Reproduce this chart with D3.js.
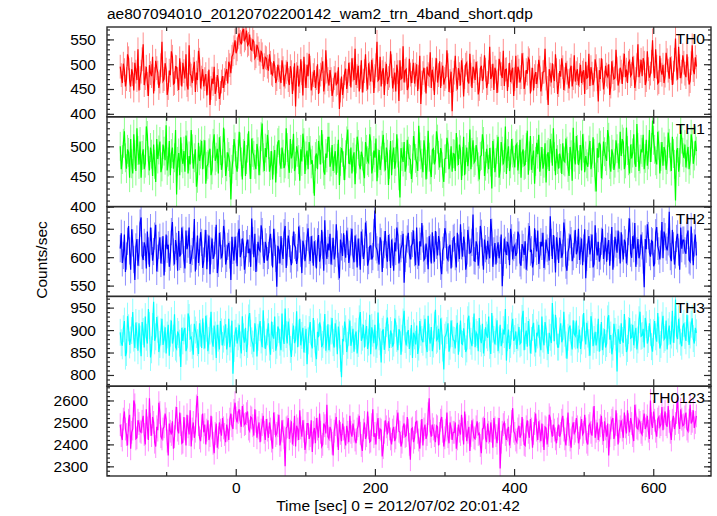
<!DOCTYPE html>
<html><head><meta charset="utf-8">
<script src="https://cdn.jsdelivr.net/npm/d3@7"></script>
<style>
body{margin:0;background:#fff}
text{font-family:"Liberation Sans",Arial,Helvetica,sans-serif;fill:#000}
</style>
</head><body>
<svg id="chart" width="717" height="516"></svg>
<script>
const titleText = "ae807094010_20120702200142_wam2_trn_4band_short.qdp";
const xLabelText = "Time [sec] 0 = 2012/07/02 20:01:42";
const yLabelText = "Counts/sec";
const bandNames = ["TH0", "TH1", "TH2", "TH3", "TH0123"];
const bandColors = ["#ff0000", "#00ff00", "#0000ff", "#00ffff", "#ff00ff"];
const tStart = -166, tStep = 1.5;

const th0 = [495,478,462,501,488,455,470,520,512,468,455,490,480,447,503,485,468,530,447,472,
485,510,540,458,472,495,460,436,498,482,476,515,441,470,507,492,483,452,465,498,
545,466,470,502,489,438,452,487,478,526,515,460,462,495,494,470,448,512,481,455,
503,486,471,520,458,449,538,480,477,462,490,505,444,483,468,527,509,451,473,490,
455,470,480,437,462,489,418,452,471,460,495,440,450,478,466,430,442,465,476,452,
468,482,490,461,505,498,482,515,520,534,548,522,530,555,562,545,540,566,571,548,
552,568,538,541,560,530,528,550,545,512,516,539,532,521,505,527,520,490,498,514,
512,495,487,520,503,481,478,506,496,462,470,499,488,474,462,508,492,455,475,484,
505,468,458,496,484,440,471,502,415,480,497,455,466,510,482,437,515,476,452,499,
476,521,493,447,461,478,488,452,472,500,440,466,479,490,506,445,463,528,485,470,
457,488,470,436,448,472,483,459,462,494,410,447,475,438,455,482,491,450,466,503,
480,453,512,489,468,531,458,476,497,445,474,508,443,467,486,520,470,449,502,481,
465,509,488,442,476,498,545,467,470,515,455,484,492,438,481,501,460,472,477,526,
496,451,468,483,445,499,484,426,508,470,472,536,463,487,490,448,455,511,479,462,
486,503,461,479,500,446,474,517,420,463,482,493,468,441,495,480,477,524,452,489,
471,438,489,512,463,478,506,452,480,497,459,470,475,528,498,444,466,485,405,468,
483,517,470,449,492,480,457,508,488,435,474,499,503,466,461,521,479,452,495,486,
468,505,482,439,450,491,497,466,473,518,489,452,462,484,535,470,476,501,448,493,
485,442,467,511,501,480,472,527,456,489,490,446,478,503,464,485,493,436,470,517,
452,495,487,463,474,522,499,450,463,488,481,512,508,441,469,493,447,476,484,460,
476,509,493,445,460,484,485,531,471,452,418,490,479,463,502,476,466,520,488,440,
458,486,475,512,494,448,470,503,483,466,451,489,497,455,472,518,465,482,490,457,
478,499,462,483,488,440,505,472,474,521,456,494,481,458,469,510,496,470,425,488,
470,512,487,449,463,497,479,475,500,438,455,506,484,470,472,529,491,457,467,493,
485,460,498,521,474,489,462,503,507,476,480,515,493,452,470,498,540,474,486,509,
476,512,503,458,468,526,490,473,481,505,548,490,472,530,495,461,464,517,488,479,
499,462,477,523,508,487,471,514,492,458,483,509,552,491,469,535,496,472,485,518,
503,481,474,520,491,459,466,502,538,488,480,514,495];

const th1 = [500,462,478,505,525,481,463,495,490,448,512,471,455,520,486,459,530,493,470,508,
448,485,495,462,472,533,518,476,460,498,487,451,503,470,441,512,479,494,508,457,
466,503,492,477,535,460,474,509,452,488,498,463,481,527,420,475,489,452,515,481,
471,492,458,518,502,455,484,470,527,496,463,481,495,433,447,506,476,487,509,462,
487,510,438,467,470,489,496,452,461,505,520,476,482,496,455,515,493,461,472,531,
505,451,466,490,483,473,412,462,478,512,499,468,458,487,524,499,474,445,488,509,
451,478,497,525,470,446,513,490,485,470,462,504,491,452,476,516,538,481,459,497,
482,519,503,458,468,492,445,477,494,440,479,506,510,473,463,498,487,464,471,530,
498,470,456,512,480,487,521,459,467,500,490,478,443,495,475,521,506,454,484,493,
462,507,493,471,477,446,418,483,488,462,509,494,470,527,496,459,453,488,481,515,
515,466,474,502,459,480,492,453,480,511,436,475,497,490,468,444,486,509,528,472,
471,498,455,482,490,437,479,516,503,469,462,491,484,458,447,507,495,476,473,520,
508,455,466,493,481,513,442,472,494,461,476,502,519,482,460,498,487,436,470,509,
452,486,498,463,475,520,489,451,415,497,483,474,507,458,468,511,492,480,478,446,
464,517,501,480,473,459,534,499,486,472,457,510,493,445,470,526,482,461,449,494,
496,470,477,525,512,485,465,497,489,455,441,479,480,514,503,462,471,500,458,488,
487,459,522,491,469,503,494,444,475,516,452,478,498,467,483,528,462,490,510,473,
476,502,491,466,445,483,485,520,508,451,467,496,479,462,497,474,430,509,488,457,
473,495,516,448,460,507,492,470,481,533,454,488,500,459,471,512,489,477,465,501,
504,460,478,511,448,489,495,468,470,498,526,453,484,517,461,480,493,438,475,506,
487,519,458,475,499,463,472,505,440,486,490,459,512,497,468,530,483,452,496,478,
463,488,480,454,505,476,474,513,492,465,451,499,486,443,531,482,470,517,495,469,
478,502,460,520,497,457,484,471,466,494,509,462,473,515,488,449,425,497,481,506,
502,447,469,508,491,483,476,527,515,470,458,495,487,461,472,510,496,481,463,524,
484,512,507,462,471,531,493,476,455,503,480,489,520,472,466,537,498,459,479,495,
490,519,462,480,511,468,486,527,474,498,543,510,495,476,470,524,502,455,483,507,
468,499,492,461,478,523,505,482,459,516,488,470,410,492,497,458,473,527,512,490,
481,503,465,487,499,462,476,520,507,471,484,509,492];

const th2 = [615,642,590,603,640,574,602,628,655,611,578,649,625,596,560,618,632,585,608,660,
670,603,595,626,618,580,645,611,583,652,628,594,610,637,657,575,598,621,635,589,
612,637,568,598,640,614,622,583,600,645,662,609,587,630,619,576,646,601,605,652,
630,596,580,647,614,623,652,588,597,610,621,667,575,602,638,590,609,644,626,581,
593,624,648,579,616,638,570,611,633,597,603,629,657,572,589,643,620,598,606,655,
642,587,598,619,625,604,560,636,612,594,636,613,584,641,650,600,608,633,622,578,
595,624,631,607,615,583,668,629,600,641,574,599,627,614,611,656,645,603,590,627,
618,594,603,631,641,609,582,650,626,598,548,620,613,589,637,610,597,643,655,581,
609,638,624,597,586,613,645,621,617,588,599,654,632,607,572,629,620,593,606,635,
651,612,593,637,614,585,628,606,580,627,639,592,604,648,621,576,665,611,597,624,
612,641,587,610,634,596,607,658,623,584,563,631,618,602,642,615,599,647,628,590,
605,627,650,603,591,638,616,582,633,609,578,645,625,597,609,661,640,585,594,619,
620,596,601,643,682,618,613,600,587,635,627,574,605,622,646,604,592,639,617,581,
631,609,576,626,610,652,638,589,600,615,622,641,555,598,614,632,643,606,596,620,
624,647,608,586,652,603,585,628,619,660,632,595,598,624,611,579,637,616,589,644,
613,592,646,621,603,637,627,584,570,612,618,651,640,599,595,618,622,580,606,633,
635,601,582,643,616,597,658,620,601,636,625,578,589,648,630,607,609,626,675,594,
593,628,620,585,604,655,642,609,578,631,615,596,629,612,598,667,644,583,611,625,
587,614,626,598,612,640,549,591,633,612,604,627,619,586,650,634,596,617,621,602,
608,645,639,590,585,623,617,604,628,578,600,636,655,609,613,582,592,651,624,610,
647,588,603,627,619,643,581,602,631,616,610,594,672,626,597,639,614,573,635,620,
590,634,622,599,607,661,643,586,576,609,618,640,629,593,601,623,648,605,612,650,
595,611,633,586,616,649,563,600,624,637,605,617,640,582,588,656,619,603,627,592,
602,628,650,597,611,634,592,619,630,585,617,653,578,606,636,623,608,647,621,589,
644,616,596,631,625,589,610,645,668,607,599,637,615,660,583,611,632,598,607,640,
620,595,547,632,614,658,638,608,601,629,627,584,589,643,653,619,611,596,623,662,
598,645,636,618,612,627,680,601,593,648,620,587,604,633,641,609,578,652,615,630,
630,611,606,638,647,595,592,654,618,586,625,640,603];

const th3 = [895,872,865,903,920,842,850,931,905,867,878,899,940,882,860,917,888,854,915,880,
842,918,897,861,930,884,870,947,910,839,856,908,963,876,885,929,902,851,868,896,
925,867,880,906,848,889,912,843,893,921,870,882,935,862,858,897,890,871,818,905,
876,898,905,853,862,937,928,881,884,866,845,914,900,890,872,847,915,893,860,926,
887,859,932,904,853,877,898,941,875,863,910,889,838,912,882,857,920,896,866,880,
895,913,857,874,925,862,880,921,803,859,893,906,870,885,912,867,848,931,885,872,
905,851,868,927,938,893,876,869,852,915,899,841,884,906,920,878,862,944,890,858,
873,896,915,862,845,919,888,881,930,854,866,908,901,873,855,937,882,869,948,890,
870,919,896,857,840,885,910,871,878,942,862,893,925,866,888,905,850,879,903,824,
876,901,918,869,859,927,892,850,835,896,884,917,907,862,868,889,936,854,880,913,
855,882,898,927,872,861,915,893,846,908,889,837,795,880,875,919,903,851,866,895,
921,865,879,903,852,887,897,848,870,925,940,876,884,912,861,893,909,858,873,934,
846,906,893,871,912,857,868,939,885,874,828,897,902,856,877,915,928,883,860,899,
890,863,871,926,915,881,855,902,896,845,882,918,943,879,866,893,900,858,874,911,
838,894,887,868,910,847,862,920,895,879,873,903,925,867,851,932,884,870,907,853,
869,911,945,877,880,903,856,926,898,860,812,884,889,899,915,852,864,921,892,878,
877,859,903,916,845,882,921,870,868,904,886,851,858,923,932,887,875,864,899,937,
862,895,890,853,927,881,871,914,848,872,906,889,883,930,866,847,938,902,879,868,
896,922,853,878,912,864,874,901,890,947,832,883,901,858,868,909,925,876,881,897,
858,884,907,869,872,926,943,855,886,899,863,920,895,848,877,906,916,871,850,894,
889,912,871,855,930,880,866,918,902,863,847,894,884,871,960,905,875,934,898,862,
862,898,915,873,880,941,893,867,836,884,905,910,873,857,922,891,887,921,859,880,
901,858,876,905,938,887,868,916,891,872,843,931,910,864,879,896,866,883,925,852,
883,918,855,874,902,861,870,925,933,879,889,846,862,914,897,884,808,902,880,869,
915,877,872,936,893,851,859,899,927,882,884,912,866,890,905,857,878,923,941,886,
888,903,861,927,912,870,879,915,895,863,852,894,920,885,874,938,900,859,868,911,
932,879,883,921,857,896,910,868,889,943,872,901,968,887,880,925,898,873,864,907,
915,888,876,934,903,867,889,913,926,881,870,905,894];

const th0123 = [2490,2440,2420,2515,2550,2470,2445,2395,2510,2535,2380,2455,2470,2600,2580,2425,2430,2510,2495,2460,
2455,2505,2530,2445,2400,2560,2475,2420,2610,2490,2440,2525,2500,2410,2390,2480,2465,2590,2545,2435,
2425,2470,2480,2540,2515,2415,2350,2495,2460,2445,2505,2380,2435,2520,2570,2465,2450,2545,2490,2405,
2410,2525,2470,2395,2535,2480,2445,2555,2390,2470,2500,2430,2460,2575,2620,2490,2430,2415,2485,2540,
2455,2490,2400,2465,2510,2420,2440,2530,2475,2405,2360,2450,2495,2385,2430,2500,2465,2440,2520,2475,
2445,2410,2490,2465,2420,2515,2540,2485,2470,2555,2590,2520,2500,2545,2560,2505,2480,2575,2530,2490,
2495,2540,2550,2470,2460,2525,2520,2485,2440,2560,2505,2430,2475,2500,2410,2465,2490,2530,2455,2420,
2515,2465,2430,2500,2470,2415,2380,2545,2495,2440,2450,2485,2535,2395,2420,2510,2460,2430,2300,2475,
2480,2520,2425,2460,2505,2400,2445,2530,2390,2485,2470,2420,2555,2475,2435,2510,2460,2375,2410,2495,
2495,2425,2440,2510,2365,2455,2475,2405,2520,2470,2430,2540,2455,2390,2400,2495,2485,2450,2580,2435,
2425,2480,2465,2405,2350,2460,2490,2525,2440,2375,2510,2450,2415,2495,2470,2430,2395,2485,2455,2410,
2530,2455,2435,2495,2460,2420,2405,2470,2485,2530,2450,2395,2370,2465,2500,2425,2440,2550,2475,2410,
2415,2490,2560,2435,2450,2400,2490,2520,2425,2470,2465,2345,2385,2455,2510,2480,2445,2505,2470,2425,
2400,2465,2480,2415,2430,2505,2545,2460,2455,2390,2410,2480,2495,2435,2440,2525,2465,2400,2330,2470,
2475,2410,2430,2500,2505,2455,2420,2380,2460,2515,2395,2470,2490,2425,2445,2540,2610,2460,2435,2490,
2470,2440,2410,2485,2480,2395,2450,2510,2525,2460,2390,2430,2465,2545,2435,2405,2500,2475,2420,2455,
2455,2500,2380,2425,2490,2460,2445,2535,2470,2400,2550,2485,2415,2455,2480,2370,2440,2510,2465,2430,
2425,2480,2505,2445,2450,2395,2360,2470,2475,2520,2430,2410,2495,2455,2410,2500,2460,2385,2520,2475,
2440,2405,2470,2520,2290,2410,2455,2490,2500,2445,2420,2465,2480,2395,2435,2505,2565,2460,2450,2420,
2410,2470,2485,2430,2445,2525,2465,2400,2395,2480,2510,2455,2430,2515,2470,2385,2450,2495,2540,2465,
2420,2505,2460,2415,2495,2440,2375,2480,2475,2400,2440,2535,2520,2460,2435,2490,2465,2425,2405,2470,
2490,2435,2450,2510,2530,2465,2425,2395,2470,2545,2445,2420,2385,2475,2500,2450,2460,2520,2480,2405,
2430,2475,2515,2445,2455,2535,2470,2410,2400,2485,2495,2455,2440,2520,2575,2430,2460,2500,2420,2465,
2485,2530,2450,2415,2505,2470,2435,2495,2350,2440,2475,2510,2520,2425,2445,2555,2490,2400,2460,2480,
2510,2465,2430,2545,2480,2450,2555,2490,2455,2520,2495,2440,2415,2580,2530,2475,2470,2510,2500,2455,
2445,2505,2540,2470,2485,2530,2460,2425,2600,2495,2475,2550,2510,2460,2435,2515,2525,2480,2490,2570,
2465,2520,2550,2490,2480,2575,2505,2455,2420,2510,2530,2470,2495,2545,2620,2500,2470,2560,2515,2485,
2490,2525,2545,2470,2460,2510,2580,2495,2505,2555,2475,2500,2530];

const seriesValues = [th0, th1, th2, th3, th0123];
const errBars = [24, 24, 24, 30, 52];
const yDomains = [[394, 575], [400, 549], [531, 689], [775, 975], [2256, 2665]];
const yTickValues = [[400, 450, 500, 550], [400, 450, 500], [550, 600, 650], [800, 850, 900, 950], [2300, 2400, 2500, 2600]];
const yMinorSteps = [10, 10, 10, 10, 20];
const xDomain = [-185, 683];
const xTickValues = [0, 200, 400, 600];
const xMinorTickValues = [-100, 100, 300, 500];

// ---- layout ----
const W = 717, H = 516;
const left = 107, right = 711, top0 = 27, bottom = 476;
const nP = seriesValues.length;
const pH = (bottom - top0) / nP;
const axisColor = "#2b2b2b";

const svg = d3.select("#chart");
svg.append("rect").attr("width", W).attr("height", H).attr("fill", "#fff");

const x = d3.scaleLinear().domain(xDomain).range([left, right]);

svg.append("text").attr("x", left).attr("y", 19).attr("font-size", 15.5).text(titleText);
svg.append("text").attr("x", 398).attr("y", 511).attr("text-anchor", "middle")
  .attr("font-size", 15.5).text(xLabelText);
svg.append("text").attr("transform", `translate(47,260) rotate(-90)`).attr("text-anchor", "middle")
  .attr("font-size", 15.5).text(yLabelText);

seriesValues.forEach((vals, i) => {
  const pTop = top0 + i * pH, pBot = pTop + pH;
  const y = d3.scaleLinear().domain(yDomains[i]).range([pBot, pTop]);
  const g = svg.append("g");
  const clipId = "clip" + i;
  svg.append("clipPath").attr("id", clipId).append("rect")
    .attr("x", left).attr("y", pTop).attr("width", right - left).attr("height", pH);

  const pts = vals.map((v, k) => ({t: tStart + k * tStep, v}));
  const dg = g.append("g").attr("clip-path", `url(#${clipId})`);
  const err = errBars[i];
  dg.selectAll("line.err").data(pts).join("line").attr("class", "err")
    .attr("x1", d => x(d.t)).attr("x2", d => x(d.t))
    .attr("y1", d => y(d.v - err)).attr("y2", d => y(d.v + err))
    .attr("stroke", bandColors[i]).attr("stroke-opacity", 0.45).attr("stroke-width", 1);
  dg.append("path").datum(pts)
    .attr("d", d3.line().x(d => x(d.t)).y(d => y(d.v)))
    .attr("fill", "none").attr("stroke", bandColors[i]).attr("stroke-width", 1.2);

  const [d0, d1] = yDomains[i];
  const ms = yMinorSteps[i];
  const minor = d3.range(Math.ceil(d0 / ms) * ms, d1 + 0.001, ms);
  const styleAxis = sel => {
    sel.select(".domain").remove();
    sel.selectAll(".tick line").attr("stroke", axisColor).attr("stroke-width", 1.2);
  };
  g.append("g").attr("transform", `translate(${left},0)`)
    .call(d3.axisLeft(y).tickValues(minor).tickSize(-3).tickFormat("")).call(styleAxis);
  g.append("g").attr("transform", `translate(${right},0)`)
    .call(d3.axisRight(y).tickValues(minor).tickSize(-3).tickFormat("")).call(styleAxis);
  const la = g.append("g").attr("transform", `translate(${left},0)`)
    .call(d3.axisLeft(y).tickValues(yTickValues[i]).tickSize(-7).tickPadding(i === 4 ? 19 : 11).tickFormat(d3.format("d")))
    .call(styleAxis);
  la.selectAll("text").attr("font-size", 15.5).attr("font-family", null).attr("fill", "#000");
  g.append("g").attr("transform", `translate(${right},0)`)
    .call(d3.axisRight(y).tickValues(yTickValues[i]).tickSize(-7).tickFormat("")).call(styleAxis);

  g.append("g").attr("transform", `translate(0,${pTop})`)
    .call(d3.axisTop(x).tickValues(xTickValues).tickSize(-7).tickFormat("")).call(styleAxis);
  g.append("g").attr("transform", `translate(0,${pTop})`)
    .call(d3.axisTop(x).tickValues(xMinorTickValues).tickSize(-4).tickFormat("")).call(styleAxis);
  const ba = g.append("g").attr("transform", `translate(0,${pBot})`)
    .call(d3.axisBottom(x).tickValues(xTickValues).tickSize(-7).tickPadding(6)
      .tickFormat(i === nP - 1 ? d3.format("d") : ""))
    .call(styleAxis);
  ba.selectAll("text").attr("font-size", 15.5).attr("font-family", null).attr("fill", "#000");
  g.append("g").attr("transform", `translate(0,${pBot})`)
    .call(d3.axisBottom(x).tickValues(xMinorTickValues).tickSize(-4).tickFormat("")).call(styleAxis);

  g.append("rect").attr("x", left).attr("y", pTop).attr("width", right - left).attr("height", pH)
    .attr("fill", "none").attr("stroke", axisColor).attr("stroke-width", 1.4);

  g.append("text").attr("x", 705).attr("y", pTop + 17).attr("text-anchor", "end")
    .attr("font-size", 15.5).text(bandNames[i]);
});
</script>
</body></html>
